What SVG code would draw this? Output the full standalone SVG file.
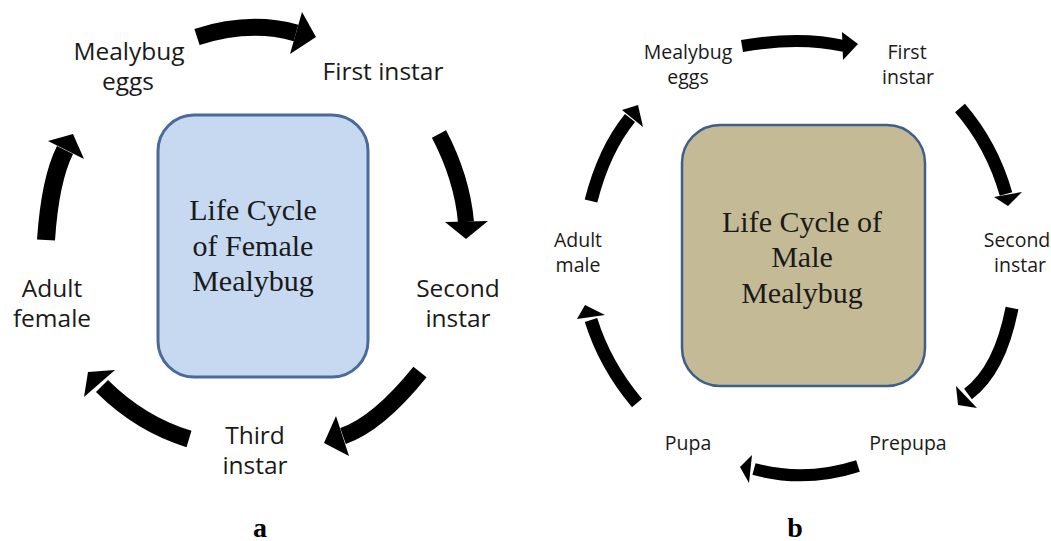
<svg xmlns="http://www.w3.org/2000/svg" width="1051" height="541" viewBox="0 0 1051 541">
<style>
.lbl{font-family:"Open Sans","Liberation Sans",sans-serif;fill:#1a1a1a;text-anchor:middle}
.l1{font-size:24.5px}
.l2{font-size:19.5px}
.ttl{font-family:"Liberation Serif","Times New Roman",serif;font-size:30px;fill:#1a1a1a;text-anchor:middle}
.cap{font-family:"Liberation Serif","Times New Roman",serif;font-size:28px;font-weight:bold;fill:#000;text-anchor:middle}
.body{fill:none;stroke:#000;stroke-linecap:butt}
.head{fill:#000}
</style>
<rect width="1051" height="541" fill="#fff"/>

<g id="female-center">
<rect x="158" y="115" width="210" height="262" rx="36" fill="#c6d9f1" stroke="#4a6b9a" stroke-width="3"/>
<text class="ttl" x="253" y="220">Life Cycle</text>
<text class="ttl" x="253" y="256">of Female</text>
<text class="ttl" x="253" y="291">Mealybug</text>
</g>
<g id="f-eggs"><text class="lbl l1" x="129" y="60">Mealybug</text><text class="lbl l1" x="128" y="90">eggs</text></g>
<g id="f-first"><text class="lbl l1" x="383" y="80">First instar</text></g>
<g id="f-second"><text class="lbl l1" x="458" y="297">Second</text><text class="lbl l1" x="458" y="327">instar</text></g>
<g id="f-third"><text class="lbl l1" x="255" y="444">Third</text><text class="lbl l1" x="255" y="474">instar</text></g>
<g id="f-adult"><text class="lbl l1" x="52" y="297">Adult</text><text class="lbl l1" x="52" y="327">female</text></g>
<g id="label-a"><text class="cap" x="260" y="537">a</text></g>

<g id="male-center">
<rect x="682" y="125" width="243" height="261" rx="38" fill="#c4bb96" stroke="#3f5f8a" stroke-width="2.5"/>
<text class="ttl" x="802" y="232">Life Cycle of</text>
<text class="ttl" x="802" y="267">Male</text>
<text class="ttl" x="802" y="303">Mealybug</text>
</g>
<g id="m-eggs"><text class="lbl l2" x="688" y="59">Mealybug</text><text class="lbl l2" x="688" y="84">eggs</text></g>
<g id="m-first"><text class="lbl l2" x="907" y="59">First</text><text class="lbl l2" x="908" y="84">instar</text></g>
<g id="m-second"><text class="lbl l2" x="1017" y="247">Second</text><text class="lbl l2" x="1020" y="272">instar</text></g>
<g id="m-prepupa"><text class="lbl l2" x="908" y="450">Prepupa</text></g>
<g id="m-pupa"><text class="lbl l2" x="688" y="450">Pupa</text></g>
<g id="m-adult"><text class="lbl l2" x="578" y="247">Adult</text><text class="lbl l2" x="578" y="272">male</text></g>
<g id="label-b"><text class="cap" x="795" y="537">b</text></g>

<g id="connectors">
<path class="body" stroke-width="17" d="M197,37 Q250,20 296,33"/>
<polygon class="head" points="302,12 316,37 290,54"/>
<path class="body" stroke-width="16" d="M439,134 Q462,178 466,222"/>
<polygon class="head" points="445,222 488,221 466,239"/>
<path class="body" stroke-width="17" d="M420,372 Q378,424 343,436"/>
<polygon class="head" points="336,416 324,443 349,456"/>
<path class="body" stroke-width="17" d="M189,439 Q140,424 102,386"/>
<polygon class="head" points="115,370 88,372 84,397"/>
<path class="body" stroke-width="18" d="M46,240 Q50,180 65,150"/>
<polygon class="head" points="48,141 73,134 84,159"/>

<path class="body" stroke-width="12" d="M742,46 Q800,36 844,46"/>
<polygon class="head" points="842,32 858,44 843,60"/>
<path class="body" stroke-width="13" d="M960,108 Q992,145 1006,194"/>
<polygon class="head" points="994,197 1008,206 1022,192"/>
<path class="body" stroke-width="13" d="M1012,308 Q1000,370 968,394"/>
<polygon class="head" points="956,386 958,405 977,408"/>
<path class="body" stroke-width="12" d="M858,466 Q805,483 754,469"/>
<polygon class="head" points="752,455 740,467 749,483"/>
<path class="body" stroke-width="13" d="M637,403 Q605,365 591,320"/>
<polygon class="head" points="577,319 585,305 605,315"/>
<path class="body" stroke-width="13" d="M591,201 Q604,150 630,118"/>
<polygon class="head" points="622,110 638,105 643,127"/>
</g>
</svg>
